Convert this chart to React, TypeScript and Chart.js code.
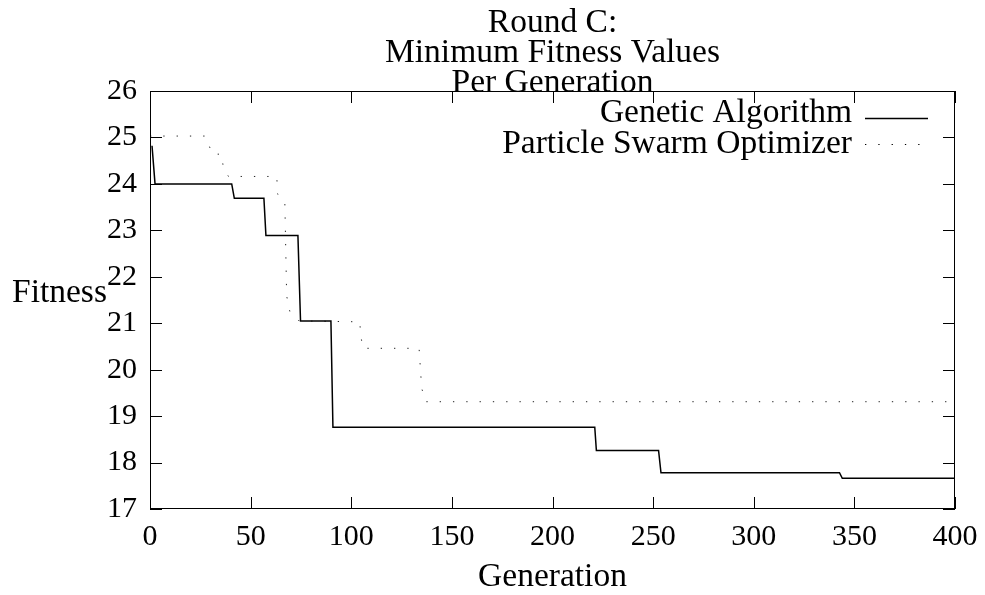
import React, { useEffect, useRef } from 'react';
import { Chart, registerables } from 'chart.js';

Chart.register(...registerables);

const titleLines = ['Round C:', 'Minimum Fitness Values', 'Per Generation'];
const xAxisTitle = 'Generation';
const yAxisTitle = 'Fitness';
const xTickValues = [0, 50, 100, 150, 200, 250, 300, 350, 400];
const yTickValues = [17, 18, 19, 20, 21, 22, 23, 24, 25, 26];

const gaLabel = 'Genetic Algorithm';
const gaX = [1, 2.5, 40.6, 41.9, 56.6, 57.6, 73.5, 74.8, 89.9, 90.9, 221, 221.8, 252.7, 253.9, 342.6, 344, 400];
const gaY = [24.82, 24.0, 24.0, 23.69, 23.69, 22.89, 22.89, 21.05, 21.05, 18.76, 18.76, 18.26, 18.26, 17.78, 17.78, 17.66, 17.66];

const psoLabel = 'Particle Swarm Optimizer';
const psoX = [0, 27.3, 29.4, 31, 35.6, 36.4, 39, 63, 63.4, 67, 67.9, 69.5, 74.1, 104.3, 104.6, 105.9, 133.7, 135, 137, 400];
const psoY = [25.03, 25.03, 24.82, 24.64, 24.64, 24.36, 24.16, 24.16, 23.78, 23.6, 21.59, 21.25, 21.05, 21.03, 20.75, 20.46, 20.46, 19.6, 19.31, 19.31];

const FONT = '"Liberation Serif", "Times New Roman", serif';
const LABEL_SIZE = 33.5;
const PSO_DASH = [1.3, 12];

const decorPlugin = {
  id: 'gnuplotDecor',
  afterDraw(chart: any) {
    const { ctx, chartArea } = chart;
    const { left, right, top, bottom } = chartArea;
    const xs = chart.scales.x;
    const ys = chart.scales.y;
    const cx = (left + right) / 2;
    ctx.save();
    ctx.strokeStyle = '#000';
    ctx.lineWidth = 1;
    ctx.setLineDash([]);
    // border
    ctx.strokeRect(left + 0.5, top + 0.5, right - left - 1, bottom - top - 1);
    // inward ticks
    const tl = 12;
    ctx.beginPath();
    xTickValues.forEach((v) => {
      const px = Math.round(xs.getPixelForValue(v)) + 0.5;
      ctx.moveTo(px, bottom);
      ctx.lineTo(px, bottom - tl);
      ctx.moveTo(px, top);
      ctx.lineTo(px, top + tl);
    });
    yTickValues.forEach((v) => {
      const py = Math.round(ys.getPixelForValue(v)) + 0.5;
      ctx.moveTo(left, py);
      ctx.lineTo(left + tl, py);
      ctx.moveTo(right, py);
      ctx.lineTo(right - tl, py);
    });
    ctx.stroke();

    ctx.fillStyle = '#000';
    ctx.font = `${LABEL_SIZE}px ${FONT}`;
    ctx.textBaseline = 'alphabetic';
    // title
    ctx.textAlign = 'center';
    titleLines.forEach((line, i) => {
      ctx.fillText(line, cx, 32 + i * 30);
    });
    // x axis title
    ctx.fillText(xAxisTitle, cx, 586);
    // y axis title
    ctx.textAlign = 'left';
    ctx.fillText(yAxisTitle, 12, 302);

    // legend
    const items = [
      { label: gaLabel, dash: [] as number[], width: 1.5, ty: 122, ly: 118 },
      { label: psoLabel, dash: PSO_DASH, width: 1, ty: 153, ly: 144 },
    ];
    items.forEach((it) => {
      ctx.textAlign = 'right';
      ctx.fillText(it.label, 852, it.ty);
      ctx.beginPath();
      ctx.lineWidth = it.width;
      ctx.setLineDash(it.dash);
      ctx.moveTo(865, it.ly + 0.5);
      ctx.lineTo(928, it.ly + 0.5);
      ctx.stroke();
    });
    ctx.restore();
  },
};

export default function App() {
  const ref = useRef<HTMLCanvasElement>(null);
  useEffect(() => {
    document.body.style.margin = '0';
    const canvas = ref.current!;
    const chart = new Chart(canvas, {
      type: 'line',
      data: {
        datasets: [
          {
            label: gaLabel,
            data: gaX.map((x, i) => ({ x, y: gaY[i] })),
            borderColor: '#000',
            borderWidth: 1.5,
            pointRadius: 0,
            fill: false,
            tension: 0,
          },
          {
            label: psoLabel,
            data: psoX.map((x, i) => ({ x, y: psoY[i] })),
            borderColor: '#222',
            borderWidth: 1,
            borderDash: PSO_DASH,
            pointRadius: 0,
            fill: false,
            tension: 0,
          },
        ],
      },
      options: {
        responsive: false,
        animation: false,
        layout: { padding: { top: 91, right: 30, left: 0, bottom: 0 } },
        plugins: {
          legend: { display: false },
          title: { display: false },
          tooltip: { enabled: false },
        },
        scales: {
          x: {
            type: 'linear',
            min: 0,
            max: 400,
            afterBuildTicks: (scale: any) => {
              scale.ticks = xTickValues.map((v) => ({ value: v }));
            },
            afterFit: (scale: any) => {
              scale.height = 86;
              scale.paddingLeft = 0;
              scale.paddingRight = 0;
            },
            grid: { display: false, drawTicks: false },
            border: { display: false },
            ticks: {
              color: '#000',
              padding: 10,
              maxRotation: 0,
              font: { family: FONT, size: 30 },
            },
            title: { display: false },
          },
          y: {
            type: 'linear',
            min: 17,
            max: 26,
            afterBuildTicks: (scale: any) => {
              scale.ticks = yTickValues.map((v) => ({ value: v }));
            },
            afterFit: (scale: any) => {
              scale.width = 150;
              scale.paddingTop = 0;
              scale.paddingBottom = 0;
            },
            grid: { display: false, drawTicks: false },
            border: { display: false },
            ticks: {
              color: '#000',
              padding: 13,
              font: { family: FONT, size: 30 },
            },
          },
        },
      },
      plugins: [decorPlugin],
    } as any);
    return () => chart.destroy();
  }, []);
  return (
    <div style={{ position: 'absolute', left: 0, top: 0, width: 985, height: 595 }}>
      <canvas ref={ref} width={985} height={595} style={{ display: 'block' }} />
    </div>
  );
}
